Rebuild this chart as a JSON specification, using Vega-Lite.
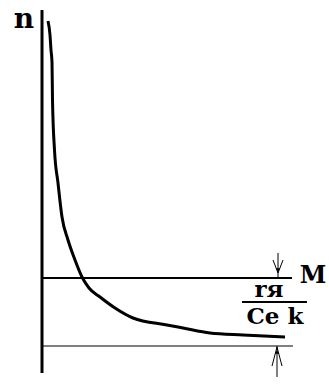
{
  "$schema": "https://vega.github.io/schema/vega-lite/v6.json",
  "width": 329,
  "height": 384,
  "autosize": {"type": "none"},
  "padding": 0,
  "background": "white",
  "config": {"view": {"stroke": null}, "text": {"font": "DejaVu Serif", "fontWeight": "bold", "color": "black", "align": "center", "baseline": "alphabetic"}},
  "datasets": {
    "curve": [
      {"M": 0.6, "n": 35.2}, {"M": 0.8, "n": 33.8}, {"M": 0.9, "n": 32.3}, {"M": 1.0, "n": 31.1},
      {"M": 1.05, "n": 27.3}, {"M": 1.25, "n": 22.3}, {"M": 1.6, "n": 19.0}, {"M": 2.0, "n": 15.6},
      {"M": 2.6, "n": 13.3}, {"M": 3.3, "n": 11.3}, {"M": 4.0, "n": 9.6}, {"M": 4.7, "n": 8.5},
      {"M": 5.8, "n": 7.6}, {"M": 7.3, "n": 6.5}, {"M": 9.1, "n": 5.5}, {"M": 12.5, "n": 4.8},
      {"M": 14.1, "n": 4.5}, {"M": 16.8, "n": 4.0}, {"M": 20.1, "n": 3.8}, {"M": 24.3, "n": 3.6}
    ],
    "axis": [{"x1": 0, "x2": 0, "y1": 0, "y2": 36.3}],
    "upper": [{"x1": 0, "x2": 25, "y1": 9.5, "y2": 9.5}, {"x1": 20, "x2": 26.5, "y1": 7.1, "y2": 7.1}],
    "thin": [
      {"x1": 0, "x2": 25.1, "y1": 2.7, "y2": 2.7},
      {"x1": 23.6, "x2": 23.6, "y1": 12.0, "y2": 9.6},
      {"x1": 23.5, "x2": 23.5, "y1": 2.7, "y2": -0.4}
    ],
    "heads": [
      {"h": "down", "M": 23.1, "n": 11.3, "o": 1}, {"h": "down", "M": 23.6, "n": 10.0, "o": 2}, {"h": "down", "M": 24.1, "n": 11.3, "o": 3},
      {"h": "up", "M": 23.0, "n": 0.7, "o": 1}, {"h": "up", "M": 23.5, "n": 2.6, "o": 2}, {"h": "up", "M": 24.0, "n": 0.7, "o": 3}
    ],
    "tipdown": [{"M": 23.6, "n": 10.3}],
    "tipup": [{"M": 23.5, "n": 2.1}],
    "nlabel": [{"t": "n", "M": -1.8, "n": 34.5}],
    "mlabel": [{"t": "M", "M": 27.1, "n": 9.0}],
    "frac": [
      {"t": "rя", "M": 22.7, "n": 7.6},
      {"t": "Ce k", "M": 23.3, "n": 4.9}
    ]
  },
  "encoding": {
    "x": {"type": "quantitative", "scale": {"domain": [-4.2, 28.7], "nice": false, "zero": false}, "axis": null},
    "y": {"type": "quantitative", "scale": {"domain": [-1.1, 37.3], "nice": false, "zero": false}, "axis": null}
  },
  "layer": [
    {
      "data": {"name": "axis"},
      "mark": {"type": "rule", "color": "black", "strokeWidth": 3},
      "encoding": {"x": {"field": "x1", "type": "quantitative"}, "x2": {"field": "x2"}, "y": {"field": "y1", "type": "quantitative"}, "y2": {"field": "y2"}}
    },
    {
      "data": {"name": "upper"},
      "mark": {"type": "rule", "color": "black", "strokeWidth": 2},
      "encoding": {"x": {"field": "x1", "type": "quantitative"}, "x2": {"field": "x2"}, "y": {"field": "y1", "type": "quantitative"}, "y2": {"field": "y2"}}
    },
    {
      "data": {"name": "thin"},
      "mark": {"type": "rule", "color": "black", "strokeWidth": 1},
      "encoding": {"x": {"field": "x1", "type": "quantitative"}, "x2": {"field": "x2"}, "y": {"field": "y1", "type": "quantitative"}, "y2": {"field": "y2"}}
    },
    {
      "data": {"name": "heads"},
      "mark": {"type": "line", "color": "black", "strokeWidth": 1},
      "encoding": {"x": {"field": "M", "type": "quantitative"}, "y": {"field": "n", "type": "quantitative"}, "detail": {"field": "h"}, "order": {"field": "o"}}
    },
    {
      "data": {"name": "tipdown"},
      "mark": {"type": "point", "shape": "triangle-down", "filled": true, "color": "black", "size": 18, "opacity": 1},
      "encoding": {"x": {"field": "M", "type": "quantitative"}, "y": {"field": "n", "type": "quantitative"}}
    },
    {
      "data": {"name": "tipup"},
      "mark": {"type": "point", "shape": "triangle-up", "filled": true, "color": "black", "size": 18, "opacity": 1},
      "encoding": {"x": {"field": "M", "type": "quantitative"}, "y": {"field": "n", "type": "quantitative"}}
    },
    {
      "data": {"name": "curve"},
      "mark": {"type": "line", "color": "black", "strokeWidth": 3, "interpolate": "monotone"},
      "encoding": {"x": {"field": "M", "type": "quantitative"}, "y": {"field": "n", "type": "quantitative"}}
    },
    {
      "data": {"name": "nlabel"},
      "mark": {"type": "text", "fontSize": 28},
      "encoding": {"x": {"field": "M", "type": "quantitative"}, "y": {"field": "n", "type": "quantitative"}, "text": {"field": "t"}}
    },
    {
      "data": {"name": "mlabel"},
      "mark": {"type": "text", "fontSize": 24},
      "encoding": {"x": {"field": "M", "type": "quantitative"}, "y": {"field": "n", "type": "quantitative"}, "text": {"field": "t"}}
    },
    {
      "data": {"name": "frac"},
      "mark": {"type": "text", "fontSize": 23},
      "encoding": {"x": {"field": "M", "type": "quantitative"}, "y": {"field": "n", "type": "quantitative"}, "text": {"field": "t"}}
    }
  ]
}
